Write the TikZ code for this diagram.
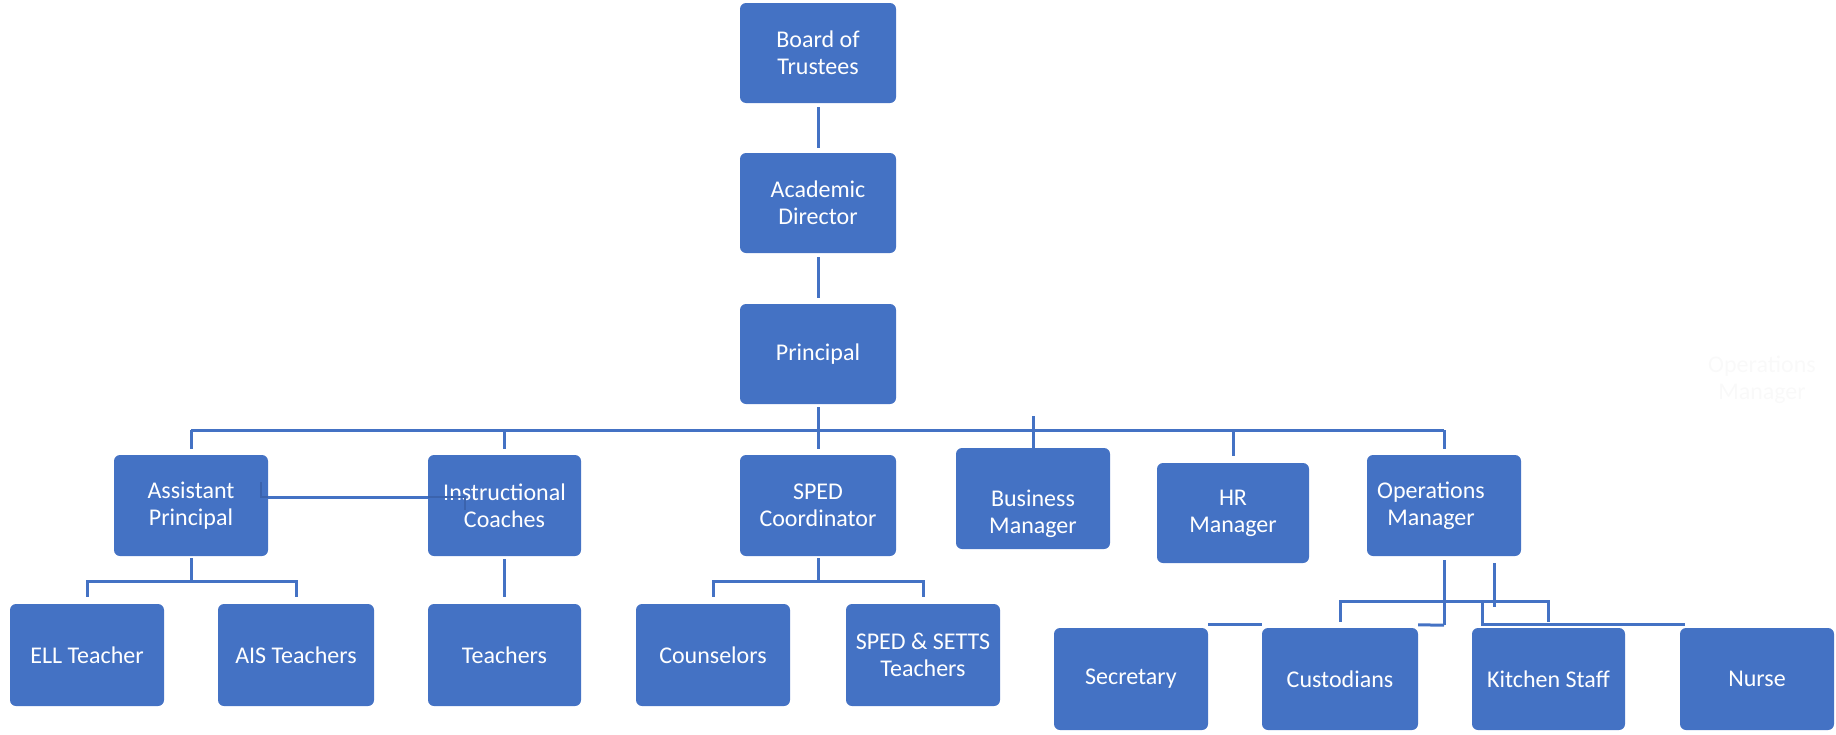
\documentclass[tikz,border=0pt]{standalone}
\usepackage{fontspec}
\setmainfont{Carlito}
\definecolor{ob}{HTML}{4472C4}
\definecolor{obd}{HTML}{3B63AD}
\tikzset{
  box/.style={rectangle, rounded corners=6pt, fill=ob, draw=none, text=white,
    align=center, inner sep=0pt, font=\fontsize{24}{27}\selectfont},
  txt/.style={text=white, align=center, inner sep=0pt, font=\fontsize{24}{27}\selectfont},
  conn/.style={draw=ob, line width=3pt},
  link/.style={draw=obd, line width=2.5pt},
}
\newcommand\obox[6]{\node[box, minimum width=#4pt, minimum height=#5pt] (#1) at (#2,#3) {#6};}
\newcommand\fork[3]{%
  \draw[conn] ([yshift=-2pt]#1.south) -- ([yshift=-26pt]#1.south);
  \draw[conn] ([yshift=7pt]#2.north) -- ([yshift=22pt]#2.north) -- ([yshift=22pt]#3.north) -- ([yshift=7pt]#3.north);}
\begin{document}
\begin{tikzpicture}[x=1pt, y=-1pt]
\useasboundingbox (0,0) rectangle (1836,734);
% top chain
\obox{B}{818}{53}{156}{100}{Board of\\Trustees}
\obox{A}{818}{203}{156}{100}{Academic\\Director}
\obox{P}{818}{354}{156}{100}{Principal}
% second level
\obox{AP}{191}{505.5}{154}{101}{Assistant\\Principal}
\obox{IC}{504.5}{505.5}{153}{101}{Instructional\\Coaches}
\obox{SC}{818}{505.5}{156}{101}{SPED\\Coordinator}
\obox{BM}{1033}{498.5}{154}{101}{}
\node[txt] (BMt) at ([yshift=-15pt]BM.center) {Business\\Manager};
\obox{HR}{1233}{513}{152}{100}{HR\\Manager}
\obox{OM}{1444}{505.5}{154}{101}{}
\node[txt] (OMt) at ([xshift=-13pt]OM.center) {Operations\\Manager};
% third level
\obox{ELL}{87}{655}{154}{102}{ELL Teacher}
\obox{AIS}{296}{655}{156}{102}{AIS Teachers}
\obox{T}{504.5}{655}{153}{102}{Teachers}
\obox{C}{713}{655}{154}{102}{Counselors}
\obox{SS}{923}{655}{154}{102}{SPED \& SETTS\\Teachers}
\obox{Sec}{1131}{679}{154}{102}{Secretary}
\obox{Cus}{1340}{679}{156}{102}{Custodians}
\obox{K}{1548.5}{679}{153}{102}{Kitchen Staff}
\obox{N}{1757}{679}{154}{102}{Nurse}
% faint leftover text
\node[txt, text=black!2.5] (ghost) at (1762,380) {Operations\\Manager};
% connectors: top chain
\draw[conn, shorten <=4pt, shorten >=5pt] (B) -- (A);
\draw[conn, shorten <=4pt, shorten >=6pt] (A) -- (P);
\draw[conn, shorten <=3pt, shorten >=6pt] (P) -- (SC);
% main bar
\coordinate (bar) at (0,430);
\draw[conn] (AP.north |- bar) -- (OM.north |- bar);
\draw[conn, shorten <=6pt] (AP.north) -- (AP.north |- bar);
\draw[conn, shorten <=6pt] (IC.north) -- (IC.north |- bar);
\draw[conn, shorten <=7pt] (HR.north) -- (HR.north |- bar);
\draw[conn, shorten <=6pt] (OM.north) -- (OM.north |- bar);
\draw[conn] ([yshift=-9pt]BM.north) -- ([yshift=32pt]BM.north);
% link between AP and IC
\draw[link] ([shift={(-7pt,23.5pt)}]AP.east) -- ([shift={(-7pt,8.5pt)}]AP.east)
  -- ([shift={(37pt,8.5pt)}]IC.west) -- ([shift={(37pt,-4.5pt)}]IC.west);
\draw[conn] ([yshift=8.5pt]AP.east) -- ([yshift=8.5pt]IC.west);
% forks
\fork{AP}{ELL}{AIS}
\draw[conn] ([yshift=-3pt]IC.south) -- ([yshift=7pt]T.north);
\fork{SC}{C}{SS}
% operations children
\coordinate (oj) at ([yshift=-69pt]OM.south);
\draw[conn] ([yshift=-4pt]OM.south) -- (oj);
\draw[conn] (oj) -- ([yshift=3pt]Cus.north east);
\draw[conn] ([yshift=3pt]Cus.north west) -- ([yshift=3pt]Sec.north east);
\draw[conn] ([shift={(50pt,-7pt)}]OM.south) -- ([shift={(50pt,-51pt)}]OM.south);
\draw[conn] ([yshift=6pt]Cus.north) -- ([yshift=26pt]Cus.north) -- ([yshift=26pt]K.north) -- ([yshift=6pt]K.north);
\draw[conn] ([shift={(11pt,26pt)}]K.north west) -- ([shift={(11pt,3pt)}]K.north west) -- ([shift={(5pt,3pt)}]N.north west);
\end{tikzpicture}
\end{document}
